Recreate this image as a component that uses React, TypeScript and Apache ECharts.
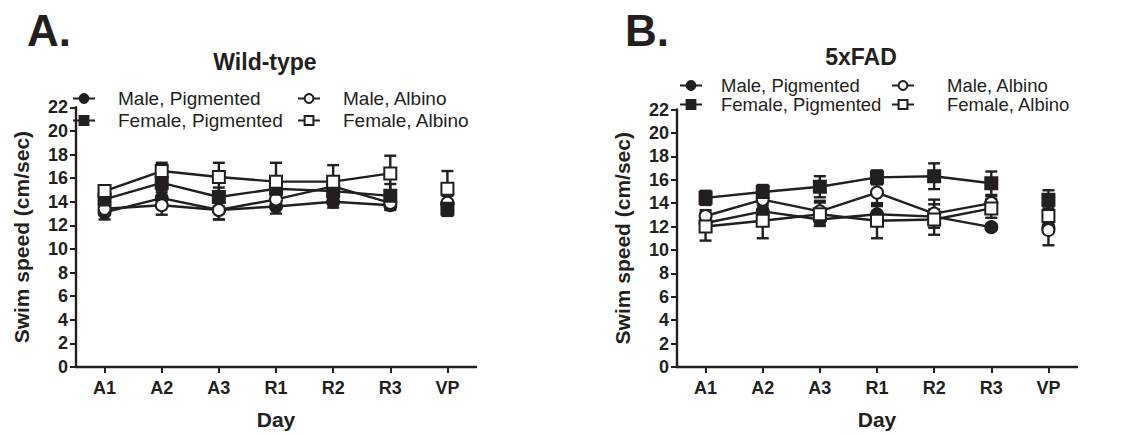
import React, { useEffect, useRef } from "react";
import * as echarts from "echarts";

const categories = ["A1", "A2", "A3", "R1", "R2", "R3", "VP"];
const yTicks = [0, 22, 2];

// Panel A: Wild-type (A1..R3, then VP)
const wtMalePig = [13.1, 14.3, 13.3, 13.6, 14.0, 13.7, 13.8];
const wtMalePigErr = [0.6, 0.7, 0.8, 0.6, 0.5, 0.4, 0.7];
const wtMaleAlb = [13.4, 13.7, 13.3, 14.2, 15.3, 13.9, 13.9];
const wtMaleAlbErr = [0.5, 0.8, 0.8, 0.7, 0.6, 0.5, 0.8];
const wtFemPig = [14.2, 15.6, 14.4, 15.1, 14.9, 14.5, 13.4];
const wtFemPigErr = [0.6, 0.8, 0.8, 0.6, 0.6, 1.0, 0.6];
const wtFemAlb = [14.9, 16.6, 16.1, 15.7, 15.7, 16.4, 15.1];
const wtFemAlbErr = [0.4, 0.7, 1.2, 1.6, 1.4, 1.5, 1.5];

// Panel B: 5xFAD
const fadMalePig = [12.3, 13.3, 12.6, 13.05, 12.85, 11.95, 11.9];
const fadMalePigErr = [0.4, 0.5, 0.5, 0.7, 0.6, 0.2, 0.3];
const fadMaleAlb = [12.9, 14.3, 13.3, 14.9, 13.1, 14.0, 11.7];
const fadMaleAlbErr = [0.5, 0.8, 0.9, 1.0, 1.2, 0.6, 1.3];
const fadFemPig = [14.45, 14.95, 15.4, 16.2, 16.3, 15.7, 14.3];
const fadFemPigErr = [0.6, 0.6, 0.9, 0.6, 1.1, 1.0, 0.8];
const fadFemAlb = [12.0, 12.5, 13.05, 12.5, 12.6, 13.55, 12.9];
const fadFemAlbErr = [1.2, 1.5, 1.0, 1.5, 1.3, 0.8, 0.8];

const groupNames = ["Male, Pigmented", "Male, Albino", "Female, Pigmented", "Female, Albino"];

const INK = "#231f20";
const FONT = "Liberation Sans, Arial, sans-serif";

const styles = [
  { symbol: "circle", fill: INK },
  { symbol: "circle", fill: "#ffffff" },
  { symbol: "rect", fill: INK },
  { symbol: "rect", fill: "#ffffff" },
];

function buildPanel(idx: number, sets: number[][][]) {
  const out: any[] = [];
  sets.forEach(([vals, errs], k) => {
    const st = styles[k];
    const itemStyle = { color: st.fill, borderColor: INK, borderWidth: 2, opacity: 1 };
    out.push({
      type: "custom",
      xAxisIndex: idx,
      yAxisIndex: idx,
      z: 1,
      silent: true,
      data: vals.map((v, i) => [i, v - errs[i], v + errs[i]]),
      renderItem: (params: any, api: any) => {
        const x = api.value(0);
        const lo = api.coord([x, api.value(1)]);
        const hi = api.coord([x, api.value(2)]);
        const w = 6;
        const s = { stroke: INK, lineWidth: 2.4 };
        return {
          type: "group",
          children: [
            { type: "line", shape: { x1: lo[0], y1: lo[1], x2: hi[0], y2: hi[1] }, style: s },
            { type: "line", shape: { x1: hi[0] - w, y1: hi[1], x2: hi[0] + w, y2: hi[1] }, style: s },
            { type: "line", shape: { x1: lo[0] - w, y1: lo[1], x2: lo[0] + w, y2: lo[1] }, style: s },
          ],
        };
      },
    });
    out.push({
      type: "line",
      name: groupNames[k],
      xAxisIndex: idx,
      yAxisIndex: idx,
      z: 3,
      data: vals.slice(0, 6),
      symbol: st.symbol,
      symbolSize: 12,
      showSymbol: true,
      lineStyle: { color: INK, width: 2.4 },
      itemStyle,
    });
    out.push({
      type: "scatter",
      xAxisIndex: idx,
      yAxisIndex: idx,
      z: 3,
      data: [[6, vals[6]]],
      symbol: st.symbol,
      symbolSize: 12,
      itemStyle,
    });
  });
  return out;
}

function makeX(gridIndex: number) {
  return {
    type: "category",
    gridIndex,
    data: categories,
    boundaryGap: true,
    name: "Day",
    nameLocation: "middle",
    nameGap: 42,
    nameTextStyle: { fontFamily: FONT, fontSize: 21, fontWeight: "bold", color: INK },
    axisLine: { show: true, lineStyle: { color: INK, width: 2.4 } },
    axisTick: { show: true, alignWithLabel: true, length: 6, lineStyle: { color: INK, width: 2 } },
    axisLabel: { fontFamily: FONT, fontSize: 18, fontWeight: "bold", color: INK, margin: 12 },
    splitLine: { show: false },
  };
}

function makeY(gridIndex: number) {
  return {
    type: "value",
    gridIndex,
    min: yTicks[0],
    max: yTicks[1],
    interval: yTicks[2],
    name: "Swim speed (cm/sec)",
    nameLocation: "middle",
    nameGap: 44,
    nameRotate: 90,
    nameTextStyle: { fontFamily: FONT, fontSize: 21, fontWeight: "bold", color: INK },
    axisLine: { show: true, lineStyle: { color: INK, width: 2.4 } },
    axisTick: { show: true, length: 6, lineStyle: { color: INK, width: 2 } },
    axisLabel: { fontFamily: FONT, fontSize: 18, fontWeight: "bold", color: INK, margin: 8 },
    splitLine: { show: false },
  };
}

function legendItem(name: string, left: number, top: number, gap: number, size: number) {
  return {
    data: [name],
    left,
    top,
    padding: 0,
    itemWidth: 22,
    itemHeight: 11,
    selectedMode: false,
    textStyle: { fontFamily: FONT, fontSize: size, lineHeight: 17, color: INK, padding: [0, 0, 0, gap] },
  };
}

export default function App() {
  const ref = useRef<HTMLDivElement>(null);
  useEffect(() => {
    document.body.style.margin = "0";
    if (!ref.current) return;
    const chart = echarts.init(ref.current, undefined, { renderer: "svg" });
    const series = [
      ...buildPanel(0, [
        [wtMalePig, wtMalePigErr],
        [wtMaleAlb, wtMaleAlbErr],
        [wtFemPig, wtFemPigErr],
        [wtFemAlb, wtFemAlbErr],
      ]),
      ...buildPanel(1, [
        [fadMalePig, fadMalePigErr],
        [fadMaleAlb, fadMaleAlbErr],
        [fadFemPig, fadFemPigErr],
        [fadFemAlb, fadFemAlbErr],
      ]),
    ];
    chart.setOption({
      animation: false,
      backgroundColor: "#ffffff",
      grid: [
        { left: 76, top: 107.3, width: 400, height: 264.4 },
        { left: 677, top: 109.5, width: 400, height: 261.8 },
      ],
      xAxis: [makeX(0), makeX(1)],
      yAxis: [makeY(0), makeY(1)],
      legend: [
        legendItem(groupNames[0], 72, 89, 18, 19),
        legendItem(groupNames[1], 297, 89, 18, 19),
        legendItem(groupNames[2], 72, 111, 18, 19),
        legendItem(groupNames[3], 297, 111, 18, 19),
        legendItem(groupNames[0], 679, 76, 14, 18.5),
        legendItem(groupNames[1], 891, 76, 28, 18.5),
        legendItem(groupNames[2], 679, 95, 14, 18.5),
        legendItem(groupNames[3], 891, 95, 28, 18.5),
      ],
      graphic: [
        { type: "text", left: 27, top: 8, style: { text: "A.", font: `bold 44px ${FONT}`, fill: INK } },
        { type: "text", left: 625, top: 8, style: { text: "B.", font: `bold 44px ${FONT}`, fill: INK } },
        { type: "text", x: 265, y: 62, style: { text: "Wild-type", font: `bold 23px ${FONT}`, fill: INK, align: "center", verticalAlign: "middle" } },
        { type: "text", x: 861, y: 57, style: { text: "5xFAD", font: `bold 23px ${FONT}`, fill: INK, align: "center", verticalAlign: "middle" } },
      ],
      series,
    });
    return () => chart.dispose();
  }, []);
  return <div ref={ref} style={{ width: 1121, height: 435 }} />;
}
